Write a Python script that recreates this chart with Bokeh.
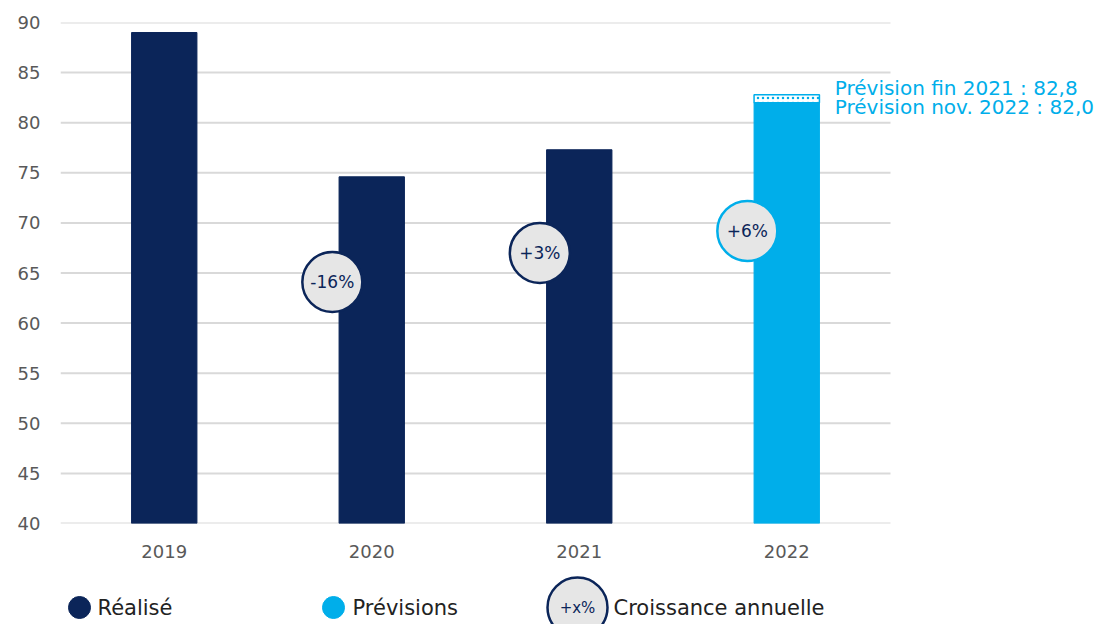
from bokeh.plotting import figure
from bokeh.layouts import column
from bokeh.models import Range1d, Label, ColumnDataSource, FixedTicker
from bokeh.core.properties import value
from bokeh.embed import file_html
from bokeh.resources import INLINE

years = ["2019", "2020", "2021", "2022"]
values = [89.0, 74.6, 77.3, 82.0]
bar_colors = ["#0b2559", "#0b2559", "#0b2559", "#00aeea"]
growth_idx = [1, 2, 3]
growth_pos = [64.1, 67.0, 69.2]
growth_labels = ["-16%", "+3%", "+6%"]
growth_border = ["#0b2559", "#0b2559", "#00aeea"]
forecast_prev = 82.8
forecast_new = 82.0
forecast_texts = ["Prévision fin 2021 : 82,8", "Prévision nov. 2022 : 82,0"]
y_ticks = [40, 45, 50, 55, 60, 65, 70, 75, 80, 85, 90]
legend_labels = ["Réalisé", "Prévisions", "Croissance annuelle"]

FONT = "DejaVu Sans"
NAVY = "#0b2559"
BLUE = "#00aeea"
GREY = "#595959"

n = len(years)
xc = [i + 0.5 for i in range(n)]

p = figure(x_range=Range1d(0, 1039 / 207.5), y_range=Range1d(40, 90),
           width=1099, height=560, output_backend="svg", toolbar_location=None,
           min_border_left=60, min_border_right=0, min_border_top=22, min_border_bottom=35)
p.outline_line_color = None
p.xgrid.grid_line_color = None
p.ygrid.grid_line_color = None

# horizontal gridlines across the category area only
p.segment(x0=[0] * len(y_ticks), x1=[n] * len(y_ticks), y0=y_ticks, y1=y_ticks,
          line_color="#d9d9d9", line_width=2)

src = ColumnDataSource(dict(x=xc, top=values, color=bar_colors))
p.vbar(x="x", top="top", bottom=40, width=0.315, color="color", source=src)

p.vbar(x=[xc[-1]], bottom=[forecast_new], top=[forecast_prev], width=0.315,
       fill_color="white", line_color=BLUE, line_width=1.5,
       hatch_pattern="dot", hatch_color=BLUE, hatch_scale=5, hatch_weight=1.5)

gx = [xc[i] - 0.19 for i in growth_idx]
gsrc = ColumnDataSource(dict(x=gx, y=growth_pos, t=growth_labels, c=growth_border))
p.scatter(x="x", y="y", size=60, fill_color="#e6e6e6",
          line_color="c", line_width=2.5, source=gsrc)
p.text(x="x", y="y", text="t", source=gsrc,
       text_align="center", text_baseline="middle", text_font=value(FONT),
       text_font_size="17px", text_color=NAVY)

p.add_layout(Label(x=xc[-1], y=forecast_prev, x_offset=48, y_offset=7, text=forecast_texts[0],
                   text_font=FONT, text_font_size="20px", text_color=BLUE,
                   text_baseline="middle"))
p.add_layout(Label(x=xc[-1], y=forecast_new, x_offset=48, y_offset=-4, text=forecast_texts[1],
                   text_font=FONT, text_font_size="20px", text_color=BLUE,
                   text_baseline="middle"))

p.yaxis.ticker = FixedTicker(ticks=y_ticks)
p.xaxis.ticker = FixedTicker(ticks=xc)
p.xaxis.major_label_overrides = {x: y for x, y in zip(xc, years)}
for ax in (p.xaxis[0], p.yaxis[0]):
    ax.axis_line_color = None
    ax.major_tick_line_color = None
    ax.minor_tick_line_color = None
    ax.major_label_text_font = FONT
    ax.major_label_text_font_size = "18px"
    ax.major_label_text_color = GREY
p.yaxis.major_label_standoff = 14
p.xaxis.major_label_standoff = 15

# legend strip (its frame is aligned with the chart frame, which starts at x=60)
lg = figure(x_range=Range1d(60, 1099), y_range=Range1d(0, 64), width=1099, height=64,
            output_backend="svg", toolbar_location=None, min_border=0)
lg.outline_line_color = None
lg.axis.visible = False
lg.grid.visible = False
lg.scatter(x=[79, 333], y=[17, 17], size=22, color=[NAVY, BLUE])
lg.scatter(x=[577], y=[17], size=60, fill_color="#e6e6e6", line_color=NAVY, line_width=2.5)
lg.text(x=[577], y=[17], text=["+x%"], text_align="center", text_baseline="middle",
        text_font=value(FONT), text_font_size="15px", text_color=NAVY)
lg.text(x=[97, 352, 613], y=[17, 17, 17], text=legend_labels, text_baseline="middle",
        text_font=value(FONT), text_font_size="21px", text_color="#222222")

layout = column(p, lg, spacing=0)
open("out.html", "w").write(file_html(layout, INLINE))
